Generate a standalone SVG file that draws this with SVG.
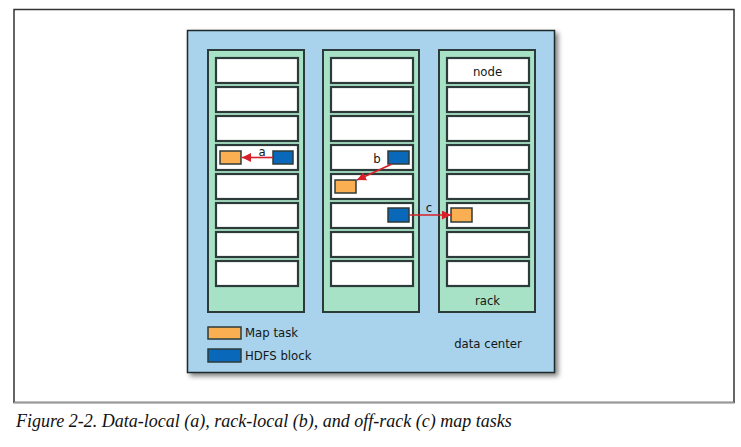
<svg xmlns="http://www.w3.org/2000/svg" width="741" height="447" viewBox="0 0 741 447">
<defs>
<filter id="sh" x="-5%" y="-5%" width="115%" height="115%">
<feGaussianBlur in="SourceAlpha" stdDeviation="2.5"/>
<feOffset dx="3" dy="3" result="b"/>
<feComponentTransfer><feFuncA type="linear" slope="0.5"/></feComponentTransfer>
<feMerge><feMergeNode/><feMergeNode in="SourceGraphic"/></feMerge>
</filter>
<marker id="ah" viewBox="0 0 10 10" refX="10" refY="5" markerWidth="9" markerHeight="9" markerUnits="userSpaceOnUse" orient="auto">
<path d="M0,0 L10,5 L0,10 z" fill="#d7202a"/>
</marker>
</defs>
<style>
.dc{fill:#a9d2ec;stroke:#1f2a2a;stroke-width:1.5}
.rack{fill:#a8e2c6;stroke:#2c3b3a;stroke-width:2}
.node{fill:#ffffff;stroke:#2c3b3a;stroke-width:2.2}
.map{fill:#f9af52;stroke:#2c3b3a;stroke-width:1.5}
.blk{fill:#0a68bb;stroke:#2c3b3a;stroke-width:1.5}
.lbl{font-family:"DejaVu Sans Condensed","Liberation Sans",sans-serif;font-size:13px;fill:#111818}
.arr{stroke:#d7202a;stroke-width:1.6;fill:none;marker-end:url(#ah)}
.cap{font-family:"Liberation Serif",serif;font-style:italic;font-size:18px;fill:#111}
</style>
<rect x="14" y="9.5" width="720" height="393" fill="#fff" stroke="#333" stroke-width="1.5"/>
<line x1="14" y1="402.5" x2="734" y2="402.5" stroke="#9a9a9a" stroke-width="1.5"/>
<g id="datacenter">
<rect class="dc" x="187.5" y="30.5" width="367" height="342" filter="url(#sh)"/>
<text class="lbl" x="488" y="348" text-anchor="middle">data center</text>
</g>
<g id="rack1">
<rect class="rack" x="208" y="50" width="96" height="262"/>
<rect class="node" x="216" y="58" width="82" height="25"/>
<rect class="node" x="216" y="87" width="82" height="25"/>
<rect class="node" x="216" y="116" width="82" height="25"/>
<rect class="node" x="216" y="145" width="82" height="25"/>
<rect class="node" x="216" y="174" width="82" height="25"/>
<rect class="node" x="216" y="203" width="82" height="25"/>
<rect class="node" x="216" y="232" width="82" height="25"/>
<rect class="node" x="216" y="261" width="82" height="25"/>
</g>
<g id="rack2">
<rect class="rack" x="323" y="50" width="96" height="262"/>
<rect class="node" x="331" y="58" width="82" height="25"/>
<rect class="node" x="331" y="87" width="82" height="25"/>
<rect class="node" x="331" y="116" width="82" height="25"/>
<rect class="node" x="331" y="145" width="82" height="25"/>
<rect class="node" x="331" y="174" width="82" height="25"/>
<rect class="node" x="331" y="203" width="82" height="25"/>
<rect class="node" x="331" y="232" width="82" height="25"/>
<rect class="node" x="331" y="261" width="82" height="25"/>
</g>
<g id="rack3">
<rect class="rack" x="439" y="50" width="96" height="262"/>
<rect class="node" x="447" y="58" width="82" height="25"/>
<rect class="node" x="447" y="87" width="82" height="25"/>
<rect class="node" x="447" y="116" width="82" height="25"/>
<rect class="node" x="447" y="145" width="82" height="25"/>
<rect class="node" x="447" y="174" width="82" height="25"/>
<rect class="node" x="447" y="203" width="82" height="25"/>
<rect class="node" x="447" y="232" width="82" height="25"/>
<rect class="node" x="447" y="261" width="82" height="25"/>
<text class="lbl" x="487.5" y="76" text-anchor="middle">node</text>
<text class="lbl" x="487.5" y="305" text-anchor="middle">rack</text>
</g>
<g id="tasks">
<rect class="map" x="220" y="151" width="21" height="13"/>
<rect class="blk" x="273" y="151" width="20" height="13"/>
<rect class="blk" x="388" y="151" width="21" height="13"/>
<rect class="map" x="335" y="180" width="21" height="13"/>
<rect class="blk" x="388" y="208" width="21" height="14"/>
<rect class="map" x="451" y="208" width="21" height="14"/>
</g>
<g id="connectors">
<line class="arr" x1="273" y1="157.5" x2="242" y2="157.5"/>
<text class="lbl" x="262" y="156" text-anchor="middle">a</text>
<line class="arr" x1="392" y1="164" x2="357" y2="180"/>
<text class="lbl" x="377" y="163" text-anchor="middle">b</text>
<line class="arr" x1="409" y1="215" x2="451" y2="215"/>
<text class="lbl" x="429" y="212" text-anchor="middle">c</text>
</g>
<g id="legend">
<rect class="map" x="208" y="327" width="33" height="12"/>
<rect class="blk" x="208" y="349" width="33" height="13"/>
<text class="lbl" x="245" y="337">Map task</text>
<text class="lbl" x="245" y="360">HDFS block</text>
</g>
<text class="cap" x="16" y="427">Figure 2-2. Data-local (a), rack-local (b), and off-rack (c) map tasks</text>
</svg>
